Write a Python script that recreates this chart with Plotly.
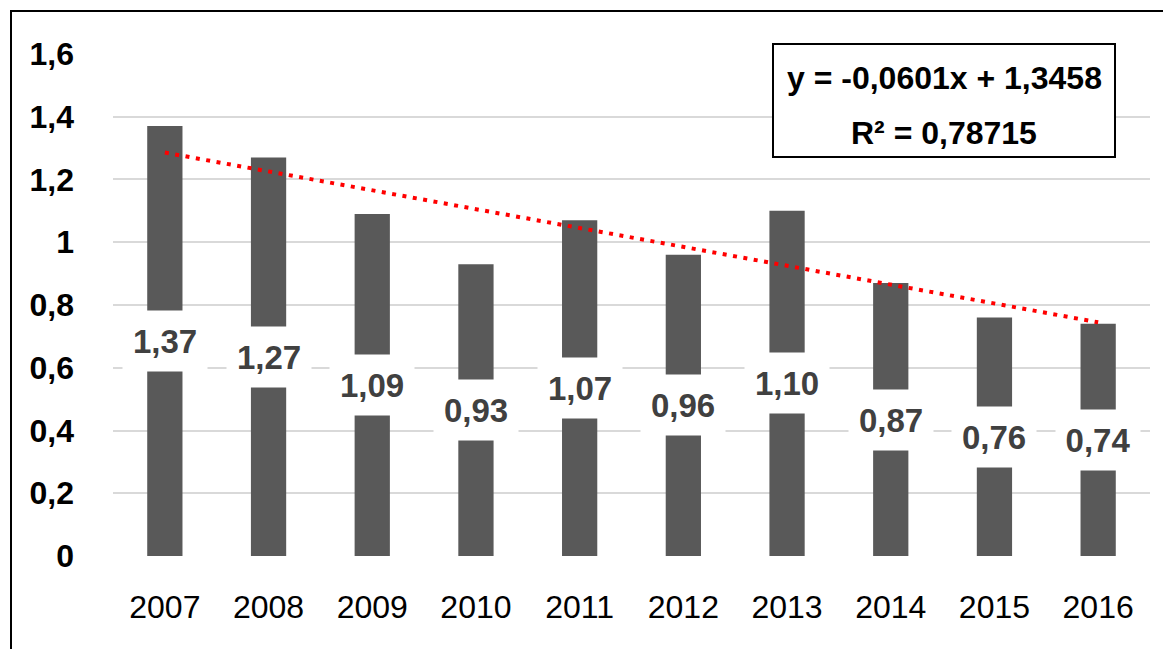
import plotly.graph_objects as go

years = ["2007", "2008", "2009", "2010", "2011", "2012", "2013", "2014", "2015", "2016"]
values = [1.37, 1.27, 1.09, 0.93, 1.07, 0.96, 1.10, 0.87, 0.76, 0.74]
value_labels = ["1,37", "1,27", "1,09", "0,93", "1,07", "0,96", "1,10", "0,87", "0,76", "0,74"]
trend_slope = -0.0601
trend_intercept = 1.3458
trend_r2_text = "R² = 0,78715"
trend_eq_text = "y = -0,0601x + 1,3458"
y_ticks = [0, 0.2, 0.4, 0.6, 0.8, 1.0, 1.2, 1.4, 1.6]
y_tick_text = ["0", "0,2", "0,4", "0,6", "0,8", "1", "1,2", "1,4", "1,6"]

FONT = "Liberation Sans, Arial, sans-serif"

OFF = 8  # page body margin
W, H = 1171 - OFF, 649 - OFF
ML, MR, MT, MB = 105, 21, 45, 92
pw, ph = W - ML - MR, H - MT - MB

def px_x(px):  # screen px -> paper
    return (px - OFF - ML) / pw

def px_y(py):
    return (H - MB - (py - OFF)) / ph

idx = list(range(len(years)))
trend_x = [idx[0], idx[-1]]
trend_y = [trend_intercept + trend_slope * 1, trend_intercept + trend_slope * len(years)]

fig = go.Figure()
fig.add_trace(go.Bar(x=idx, y=values, marker=dict(color="#595959", line=dict(width=0)),
                     width=0.34, hoverinfo="skip"))
fig.add_trace(go.Scatter(x=trend_x, y=trend_y, mode="lines",
                         line=dict(color="#ff0000", width=4, dash="4px,6.5px"), hoverinfo="skip"))

annotations = []
for i, v, lab in zip(idx, values, value_labels):
    annotations.append(dict(x=i, y=v / 2, xref="x", yref="y", text="<b>" + lab + "</b>",
                            showarrow=False, bgcolor="white", width=80, height=56, borderpad=2,
                            xanchor="center", yanchor="middle",
                            font=dict(family=FONT, size=33, color="#404040")))

# equation box texts
annotations.append(dict(x=px_x(944), y=px_y(78), xref="paper", yref="paper",
                        xanchor="center", yanchor="middle",
                        text="<b>" + trend_eq_text + "</b>", showarrow=False,
                        font=dict(family=FONT, size=32, color="black")))
annotations.append(dict(x=px_x(944), y=px_y(133), xref="paper", yref="paper",
                        xanchor="center", yanchor="middle",
                        text="<b>" + trend_r2_text + "</b>", showarrow=False,
                        font=dict(family=FONT, size=32, color="black")))

shapes = [
    dict(type="rect", xref="paper", yref="paper", x0=px_x(773), x1=px_x(1115),
         y0=px_y(157), y1=px_y(44), fillcolor="white", line=dict(color="black", width=2),
         layer="above"),
    dict(type="rect", xref="paper", yref="paper", x0=px_x(11), x1=px_x(1200),
         y0=px_y(680), y1=px_y(11), fillcolor="rgba(0,0,0,0)", line=dict(color="black", width=2),
         layer="above"),
]

fig.update_layout(
    width=W, height=H,
    margin=dict(l=ML, r=MR, t=MT, b=MB, pad=0, autoexpand=False),
    paper_bgcolor="white", plot_bgcolor="white",
    showlegend=False,
    separators=", ",
    annotations=annotations,
    shapes=shapes,
    xaxis=dict(range=[-0.5, len(years) - 0.5], tickvals=idx, ticktext=years,
               showgrid=False, showline=False, zeroline=False, automargin=False,
               ticks="", ticklabelstandoff=28,
               tickfont=dict(family=FONT, size=32, color="black")),
    yaxis=dict(range=[-0.003, 1.603], tickvals=y_ticks, ticktext=y_tick_text,
               showgrid=True, gridcolor="#d9d9d9", gridwidth=2, zeroline=False, automargin=False,
               showline=False, ticks="", ticklabelstandoff=38,
               tickfont=dict(family=FONT, size=32, color="black", weight="bold")),
)

fig.write_html("out.html")
